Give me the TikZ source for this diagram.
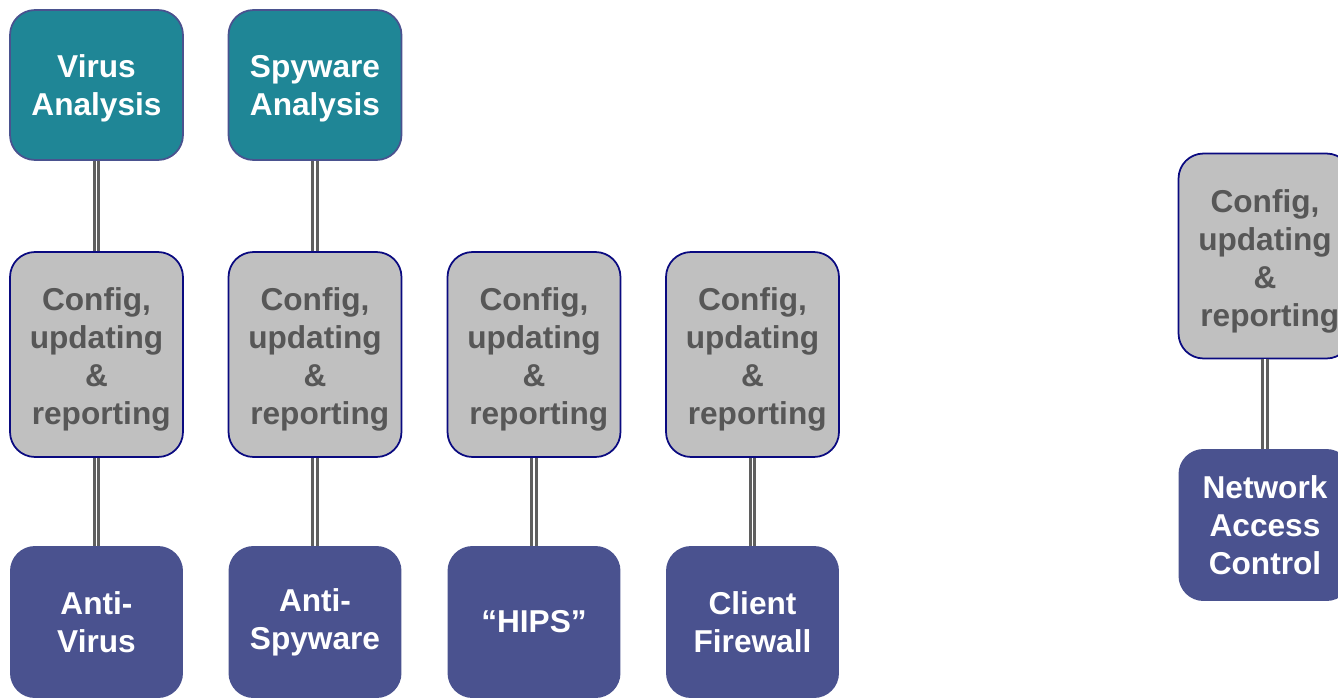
\documentclass[tikz,border=0pt]{standalone}
\usepackage{fontspec}
\setmainfont{Liberation Sans}
\usepackage{tikz}
\usetikzlibrary{arrows.meta}

\definecolor{tealbox}{HTML}{1F8696}
\definecolor{navybox}{HTML}{4A528F}
\definecolor{navyedge}{HTML}{0A0A80}
\definecolor{graybox}{HTML}{C0C0C0}
\definecolor{grayedge}{HTML}{5F5F5F}
\definecolor{graytext}{HTML}{575757}

\newcommand{\cfgtext}{\rule{0pt}{18.8pt}Config,\\updating\\\&\\\hspace*{0.3em}reporting}

\begin{document}
\begin{tikzpicture}[x=0.02cm,y=-0.02cm,
    box/.style={rounded corners=0.5cm,minimum width=3.46cm,align=center,
        font=\fontsize{18}{21.6}\selectfont\bfseries,inner sep=0pt},
    analysis/.style={box,fill=tealbox,draw=navybox,line width=1pt,text=white,minimum height=3cm},
    config/.style={box,fill=graybox,draw=navyedge,line width=1pt,text=graytext,minimum height=4.1cm},
    product/.style={box,fill=navybox,text=white,minimum height=3.04cm},
    link/.style={draw=grayedge,line width=0.055cm,double=white,double distance=0.035cm}]
\useasboundingbox (0,0) rectangle (1338,697);
\clip (0,0) rectangle (1338,697);

\begin{scope}
    \node[analysis] (VA) at (96.5,85) {\rule{0pt}{16.6pt}Virus\\Analysis};
    \node[analysis] (SA) at (315,85) {\rule{0pt}{16.6pt}Spyware\\Analysis};

    \node[config] (C1) at (96.5,354.5) {\cfgtext};
    \node[config] (C2) at (315,354.5) {\cfgtext};
    \node[config] (C3) at (534,354.5) {\cfgtext};
    \node[config] (C4) at (752.5,354.5) {\cfgtext};
    \node[config] (C5) at (1265,256) {\cfgtext};

    \node[product] (AV) at (96.5,622) {Anti-\\Virus};
    \node[product] (AS) at (315,622) {Anti-\\Spyware};
    \node[product] (HI) at (534,622) {``HIPS''};
    \node[product] (CF) at (752.5,622) {Client\\Firewall};
    \node[product] (NA) at (1265,525) {Network\\Access\\Control};
\end{scope}

\begin{scope}
    \draw [link] (VA) -- (C1);
    \draw [link] (SA) -- (C2);
    \draw [link] (C1) -- (AV);
    \draw [link] (C2) -- (AS);
    \draw [link] (C3) -- (HI);
    \draw [link] (C4) -- (CF);
    \draw [link] (C5) -- (NA);
\end{scope}
\end{tikzpicture}
\end{document}
